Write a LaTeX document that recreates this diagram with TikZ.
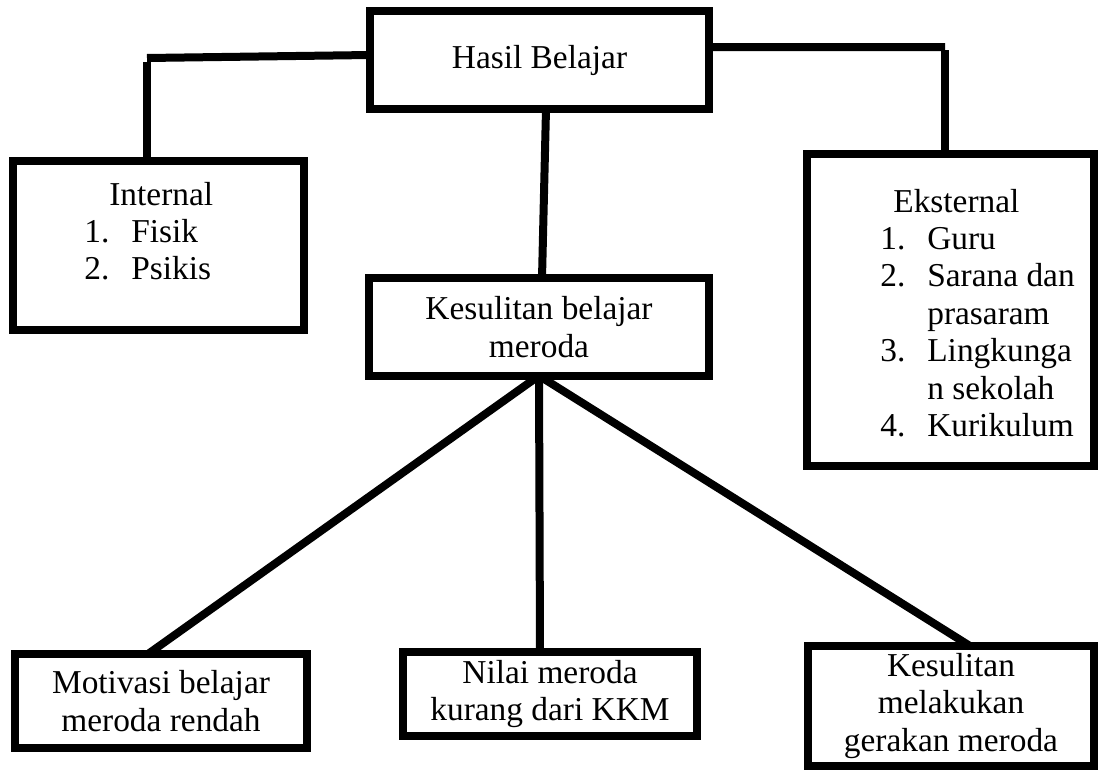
\documentclass[tikz,border=0pt]{standalone}
\usepackage{fontspec}
\setmainfont{Liberation Serif}
\usetikzlibrary{positioning}

\tikzset{
  kotak/.style={draw, line width=0.16cm, inner sep=0pt, outer sep=0pt, align=center},
  garis/.style={line width=0.16cm},
  every node/.style={font=\fontsize{19}{21.3}\selectfont}
}

\begin{document}
\begin{tikzpicture}[x=0.02cm, y=-0.02cm]
  \useasboundingbox (0,0) rectangle (1099,771);

  % kotak atas dan tengah
  \node[kotak, minimum width=6.78cm, minimum height=1.96cm] (hasil) at (539.5,60) {Hasil Belajar};
  \node[kotak, minimum width=6.80cm, minimum height=1.95cm] (kesulitan) at (539,327) {Kesulitan belajar\\meroda};

  % faktor internal dan eksternal
  \node[kotak, minimum width=5.82cm, minimum height=3.38cm] (internal) at (158.5,245.5) {};
  \node[kotak, minimum width=5.74cm, minimum height=6.24cm] (eksternal) at (950.5,310) {};

  \node[anchor=base west, inner sep=0pt] (isiinternal) at (84,205) {%
    \begin{tabular}[t]{@{}p{0.94cm}@{}l@{}}
      \multicolumn{2}{@{}l@{}}{\hspace{0.5cm}Internal}\\
      1. & Fisik\\
      2. & Psikis
    \end{tabular}};
  \node[anchor=base west, inner sep=0pt] (isieksternal) at (880,212) {%
    \begin{tabular}[t]{@{}p{0.94cm}@{}l@{}}
      \multicolumn{2}{@{}l@{}}{\hspace{0.26cm}Eksternal}\\
      1. & Guru\\
      2. & Sarana dan\\
         & prasaram\\
      3. & Lingkunga\\
         & n sekolah\\
      4. & Kurikulum
    \end{tabular}};

  % kotak bawah
  \node[kotak, minimum width=5.84cm, minimum height=1.88cm] (motivasi) at (161,701) {Motivasi belajar\\meroda rendah};
  \node[kotak, minimum width=5.88cm, minimum height=1.68cm] (nilai) at (550,694) {Nilai meroda\\kurang dari KKM};
  \node[kotak, minimum width=5.72cm, minimum height=2.40cm] (gerakan) at (951,706) {Kesulitan\\melakukan\\gerakan meroda};

  % garis penghubung
  \coordinate (kiri) at (147,58);
  \coordinate (kiribawah) at (147,62);
  \coordinate (kanan) at (945,47);
  \coordinate (kananbawah) at (945,50);

  \draw[garis] ([yshift=0.1cm]hasil.west) -- (kiri);
  \draw[garis] (kiribawah) -- (kiribawah |- internal.north);
  \draw[garis] ([yshift=0.26cm]hasil.east) -- (kanan);
  \draw[garis] (kananbawah) -- (kananbawah |- eksternal.north);

  \draw[garis] ([xshift=0.13cm]hasil.south) -- ([xshift=0.06cm]kesulitan.north);

  \draw[garis] (kesulitan.south) -- ([xshift=-0.26cm]motivasi.north);
  \draw[garis] (kesulitan.south) -- ([xshift=-0.2cm]nilai.north);
  \draw[garis] (kesulitan.south) -- ([xshift=0.38cm]gerakan.north);
\end{tikzpicture}
\end{document}
